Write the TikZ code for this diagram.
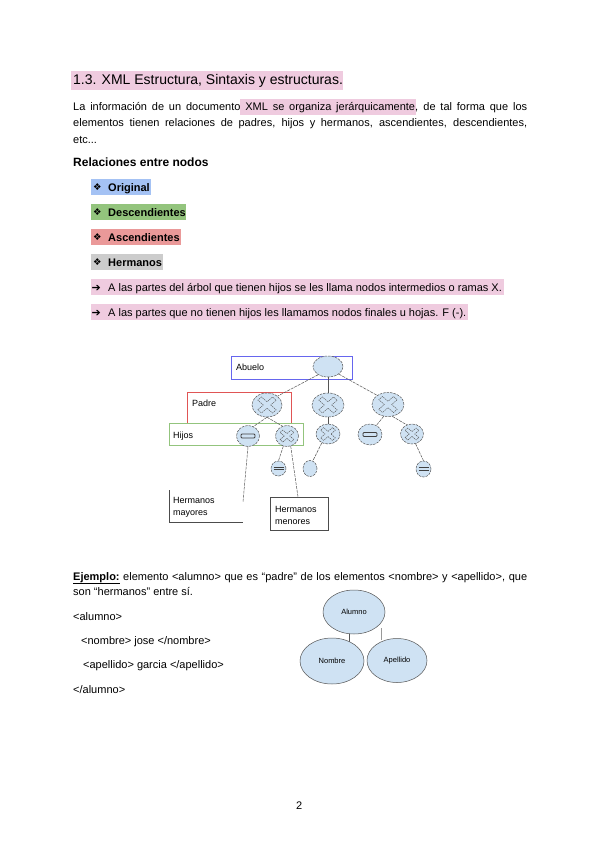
\documentclass[tikz,border=0pt]{standalone}
\usepackage{fontspec}
\setmainfont{Liberation Sans}
\newfontfamily\symf{DejaVu Sans}
\usetikzlibrary{shapes.geometric}
\definecolor{hlpink}{HTML}{EFCBDF}
\definecolor{hlblue}{HTML}{A4C2F4}
\definecolor{hlgreen}{HTML}{93C47D}
\definecolor{hlred}{HTML}{EA9999}
\definecolor{hlgray}{HTML}{CCCCCC}
\definecolor{nodeblue}{HTML}{CFE2F3}
\definecolor{edgegray}{HTML}{555555}
\definecolor{boxblue}{HTML}{6666EE}
\definecolor{boxred}{HTML}{E05555}
\definecolor{boxgreen}{HTML}{93C47D}
\tikzset{
  txt/.style={anchor=base west, inner sep=0pt, font=\fontsize{11}{13}\selectfont},
  lbl/.style={anchor=base west, inner sep=0pt, font=\fontsize{9}{10}\selectfont},
  tn/.style={ellipse, draw=edgegray, dash pattern=on 2.5pt off 1pt, fill=nodeblue, inner sep=0pt, line width=0.5pt},
  ex/.style={ellipse, draw=edgegray, fill=nodeblue, inner sep=0pt, line width=0.5pt, font=\fontsize{7.5}{8}\selectfont},
  conn/.style={draw=edgegray, line width=0.5pt, dash pattern=on 3pt off 1pt},
  solidconn/.style={draw=edgegray, line width=0.5pt},
  xm/.pic={\draw[edgegray, line width=0.45pt, dash pattern=on 1.5pt off 0.8pt, xscale=1.15]
     (0,3.2) -- (4.8,8) -- (8,4.8) -- (3.2,0) -- (8,-4.8) -- (4.8,-8) -- (0,-3.2)
     -- (-4.8,-8) -- (-8,-4.8) -- (-3.2,0) -- (-8,4.8) -- (-4.8,8) -- cycle;},
  eqm/.pic={\draw[black!75, line width=0.8pt, rounded corners=1pt] (-7,-2) rectangle (7,2);},
  eqs/.pic={\draw[black!75, line width=0.7pt] (-5,-1.3) -- (5,-1.3) (-5,1.3) -- (5,1.3);},
  bul/.style={anchor=base west, inner sep=0pt, font=\fontsize{9.5}{10}\symf},
  arr/.style={anchor=base west, inner sep=0pt, font=\fontsize{11}{12}\symf\bfseries}
}
\begin{document}
\begin{tikzpicture}[x=1pt,y=-1pt]
\useasboundingbox[fill=white] (0,0) rectangle (600,848);

% ---------- highlights ----------
\fill[hlpink] (71,71) rectangle (343,90);
\fill[hlpink] (240,99) rectangle (416,115);
\fill[hlblue] (91,179) rectangle (151,195);
\fill[hlgreen] (91,204) rectangle (186,220);
\fill[hlred] (91,229) rectangle (181,245);
\fill[hlgray] (91,254) rectangle (163,270);
\fill[hlpink] (91,279) rectangle (504,295);
\fill[hlpink] (91,304) rectangle (468,320);

% ---------- text ----------
\node[txt, font=\fontsize{14}{16}\selectfont] (title) at (73,85) {1.3. XML Estructura, Sintaxis y estructuras.};
\node[txt] (p1) at (73,111) {\makebox[454pt][s]{La información de un documento XML se organiza jerárquicamente, de tal forma que los}};
\node[txt] (p2) at (73,127) {\makebox[454pt][s]{elementos tienen relaciones de padres, hijos y hermanos, ascendientes, descendientes,}};
\node[txt] (p3) at (73,143) {etc...};
\node[txt, font=\fontsize{12}{14}\selectfont\bfseries] (rel) at (73,166.5) {Relaciones entre nodos};

\node[bul] (b1) at (93,190.5) {❖};
\node[txt, font=\fontsize{11}{13}\selectfont\bfseries] (t1) at (108,191) {Original};
\node[bul] (b2) at (93,215.5) {❖};
\node[txt, font=\fontsize{11}{13}\selectfont\bfseries] (t2) at (108,216) {Descendientes};
\node[bul] (b3) at (93,240.5) {❖};
\node[txt, font=\fontsize{11}{13}\selectfont\bfseries] (t3) at (108,241) {Ascendientes};
\node[bul] (b4) at (93,265.5) {❖};
\node[txt, font=\fontsize{11}{13}\selectfont\bfseries] (t4) at (108,266) {Hermanos};
\node[arr] (a1) at (91.5,291) {➔};
\node[txt] (t5) at (108,291) {A las partes del árbol que tienen hijos se les llama nodos intermedios o ramas X.};
\node[arr] (a2) at (91.5,316) {➔};
\node[txt] (t6) at (108,316) {A las partes que no tienen hijos les llamamos nodos finales u hojas. F (-).};

% ---------- tree diagram ----------
\draw[boxblue, line width=0.8pt] (231,356) rectangle (352,379);
\draw[boxred, line width=0.8pt] (187,423) -- (187,392) -- (291,392) -- (291,423);
\draw[boxgreen, line width=0.8pt] (169,423) rectangle (303,445);
\node[lbl] (abuelo) at (236,370) {Abuelo};
\node[lbl] (padre) at (192,406.5) {Padre};
\node[lbl] (hijos) at (173,438.5) {Hijos};

\node[tn, minimum width=30pt, minimum height=21pt] (root) at (328,366.5) {};
\node[tn, minimum width=30pt, minimum height=24pt] (pa) at (267,405) {};
\node[tn, minimum width=32pt, minimum height=24pt] (mid) at (328,405) {};
\node[tn, minimum width=32pt, minimum height=24pt] (rt) at (388,404.5) {};
\node[tn, minimum width=23pt, minimum height=21pt] (h1) at (248,436) {};
\node[tn, minimum width=23pt, minimum height=21pt] (h2) at (287,436) {};
\node[tn, minimum width=24pt, minimum height=20pt] (mc) at (328,434) {};
\node[tn, minimum width=24pt, minimum height=21pt] (r1) at (370,434.5) {};
\node[tn, minimum width=23pt, minimum height=20pt] (r2) at (412,434) {};
\node[tn, minimum width=15pt, minimum height=15pt] (l1) at (278.5,468.5) {};
\node[tn, minimum width=14pt, minimum height=16pt] (l2) at (310,468.5) {};
\node[tn, minimum width=15pt, minimum height=16pt] (l3) at (423.5,469) {};

\pic at (pa) {xm};
\pic at (mid) {xm};
\pic at (rt) {xm};
\pic[scale=0.75] at (h2) {xm};
\pic[scale=0.8] at (mc) {xm};
\pic[scale=0.75] at (r2) {xm};
\pic at (h1) {eqm};
\pic at (r1) {eqm};
\pic at (l1) {eqs};
\pic at (l3) {eqs};

\draw[conn] (root.220) -- (pa.40);
\draw[solidconn] (root.south) -- (mid.north);
\draw[conn] (root.325) -- (rt.140);
\draw[conn] (pa.south) -- (h1.60);
\draw[conn] (pa.south) -- (h2.115);
\draw[solidconn] (mid.south) -- (mc.north);
\draw[conn] (rt.250) -- (r1.55);
\draw[conn] (rt.290) -- (r2.120);
\draw[conn] (h2.250) -- (l1.north);
\draw[conn] (mc.235) -- (l2.70);
\draw[conn] (r2.290) -- (l3.north);

\coordinate (hmend) at (243,502);
\coordinate (hmenend) at (298,497);
\draw[conn] (h1.south) -- (hmend);
\draw[conn] (h2.290) -- (hmenend);
\draw[black!70, line width=0.6pt] (169,490) -- (169,522) -- (243,522);
\node[lbl] (hmay) at (173,503) {Hermanos};
\node[lbl] (hmay2) at (173,515) {mayores};
\draw[black!70, line width=0.6pt] (270,497) rectangle (328,530);
\node[lbl] (hmen) at (275,512) {Hermanos};
\node[lbl] (hmen2) at (275,524) {menores};

% ---------- example ----------
\node[txt] (e1) at (73,580) {\makebox[454pt][s]{\underline{\textbf{Ejemplo:}} elemento <alumno> que es “padre” de los elementos <nombre> y <apellido>, que}};
\node[txt] (e2) at (73,595) {son “hermanos” entre sí.};
\node[txt] (x1) at (73,620) {<alumno>};
\node[txt] (x2) at (81,644) {<nombre> jose </nombre>};
\node[txt] (x3) at (83,668) {<apellido> garcia </apellido>};
\node[txt] (x4) at (73,693) {</alumno>};

\coordinate (la) at (349,632);
\coordinate (lb) at (349,642);
\coordinate (ra) at (381,628);
\coordinate (rb) at (381,640);
\draw[solidconn] (la) -- (lb);
\draw[draw=black!40, line width=0.5pt] (ra) -- (rb);
\node[ex, minimum width=62pt, minimum height=44pt] (alumno) at (354,612) {Alumno};
\node[ex, minimum width=64pt, minimum height=46pt] (nombre) at (332,661) {Nombre};
\node[ex, minimum width=60pt, minimum height=44pt] (apellido) at (397,660.5) {Apellido};

\node[txt] (pg) at (296,809) {2};
\end{tikzpicture}
\end{document}
